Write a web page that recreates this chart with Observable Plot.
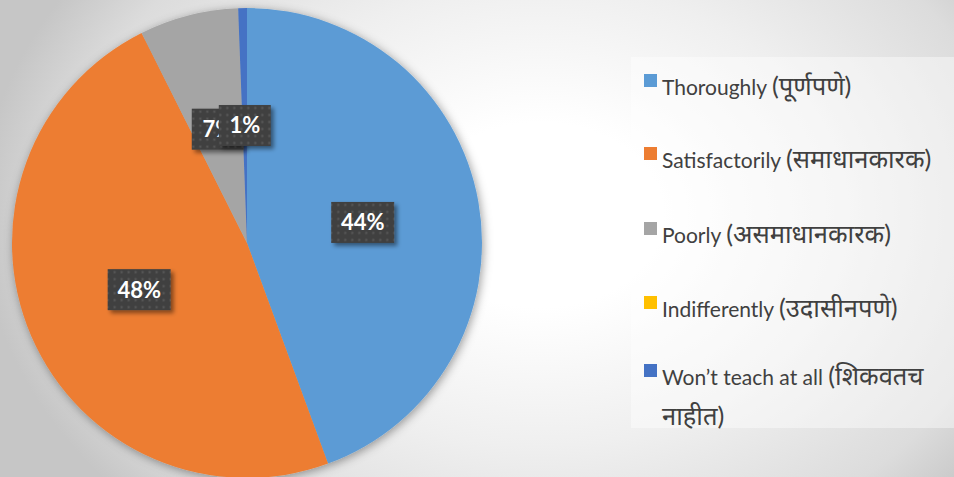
<!DOCTYPE html>
<html>
<head>
<meta charset="utf-8">
<script src="https://cdn.jsdelivr.net/npm/d3@7"></script>
<script src="https://cdn.jsdelivr.net/npm/@observablehq/plot@0.6"></script>
<style>
  html, body { margin: 0; padding: 0; }
  body {
    width: 954px; height: 477px; overflow: hidden; position: relative;
    background: radial-gradient(ellipse 560px 420px at 540px 215px, #ffffff 0%, #ffffff 22%, #efefef 55%, #dcdcdc 85%, #c6c6c6 100%);
    font-family: Lato, "Noto Sans", "Noto Sans Devanagari", sans-serif;
  }
  #chart { position: absolute; left: 0; top: 0; }
  #legendBox {
    position: absolute; left: 631px; top: 57px; width: 323px; height: 371px;
    background: rgba(255,255,255,0.42);
  }
  .item { position: absolute; left: 644px; width: 310px; font-size: 21px; line-height: 40px; color: #404040; }
  .item .sw { position: absolute; left: 0; top: 7px; width: 13px; height: 13px; }
  .item .tx { position: absolute; left: 18px; top: 0; width: 292px; white-space: normal; }
  .item .dev { font-size: 25.5px; line-height: 1; }
</style>
</head>
<body>
<div id="chart"></div>
<div id="legendBox"></div>
<div id="legend"></div>
<script>
const categories = [
  "Thoroughly (पूर्णपणे)",
  "Satisfactorily (समाधानकारक)",
  "Poorly (असमाधानकारक)",
  "Indifferently (उदासीनपणे)",
  "Won’t teach at all (शिकवतच नाहीत)"
];
const shares = [44.4, 48.2, 6.8, 0, 0.6];
const percentLabels = ["44%", "48%", "7%", "", "1%"];
const colors = ["#5B9BD5", "#ED7D31", "#A5A5A5", "#FFC000", "#4472C4"];

const data = categories.map((c, i) => ({category: c, share: shares[i], label: percentLabels[i]}));

const pieMark = Plot.dot(data, {
  x: 0, y: 0, fill: "category",
  render(index, scales, values) {
    const cx = scales.x(0), cy = scales.y(0), r = scales.x(1) - scales.x(0);
    const g = d3.create("svg:g");
    const defs = g.append("defs");
    const f1 = defs.append("filter").attr("id", "pieShadow").attr("x", "-20%").attr("y", "-20%").attr("width", "140%").attr("height", "140%");
    f1.append("feDropShadow").attr("dx", 1.5).attr("dy", 2).attr("stdDeviation", 5).attr("flood-color", "#000").attr("flood-opacity", 0.38);
    const f2 = defs.append("filter").attr("id", "boxShadow").attr("x", "-30%").attr("y", "-30%").attr("width", "170%").attr("height", "170%");
    f2.append("feDropShadow").attr("dx", 3).attr("dy", 3).attr("stdDeviation", 2.2).attr("flood-color", "#000").attr("flood-opacity", 0.45);
    const pat = defs.append("pattern").attr("id", "dots").attr("patternUnits", "userSpaceOnUse").attr("width", 7).attr("height", 7);
    pat.append("rect").attr("width", 7).attr("height", 7).attr("fill", "#404040");
    pat.append("rect").attr("x", 2.5).attr("y", 2.5).attr("width", 2).attr("height", 2).attr("fill", "#5c5c5c");

    const arcs = d3.pie().sort(null).value(i => data[i].share)(Array.from(index));
    const arc = d3.arc().innerRadius(0).outerRadius(r);
    const pg = g.append("g").attr("transform", `translate(${cx},${cy})`);
    pg.append("g").attr("filter", "url(#pieShadow)")
      .selectAll("path").data(arcs.filter(a => a.value > 0)).join("path")
      .attr("d", arc).attr("fill", a => values.fill[a.data]);

    const lg = pg.append("g");
    for (const a of arcs) {
      const lab = data[a.data].label;
      if (!lab) continue;
      const [lx, ly] = arc.centroid(a);
      const w = 30 + 11 * lab.length, h = 41;
      const grp = lg.append("g").attr("transform", `translate(${lx},${ly})`);
      grp.append("rect").attr("x", -w / 2).attr("y", -h / 2).attr("width", w).attr("height", h)
        .attr("fill", "url(#dots)").attr("filter", "url(#boxShadow)");
      grp.append("text").attr("text-anchor", "middle").attr("dy", "0.36em")
        .attr("fill", "white").attr("font-weight", "bold").attr("font-size", 22)
        .attr("font-family", "Lato, 'Noto Sans', sans-serif").text(lab);
    }
    return g.node();
  }
});

const plot = Plot.plot({
  width: 620, height: 477,
  margin: 0,
  style: {background: "transparent", overflow: "visible"},
  x: {domain: [-1, 1], range: [12, 482], axis: null},
  y: {domain: [-1, 1], range: [478, 8], axis: null},
  color: {domain: categories, range: colors},
  marks: [pieMark]
});
document.getElementById("chart").appendChild(plot);

// legend
const baselines = [95, 168, 243, 317, 385];
const legend = document.getElementById("legend");
const colorScale = plot.scale("color");
categories.forEach((c, i) => {
  const item = document.createElement("div");
  item.className = "item";
  item.style.top = (baselines[i] - 28) + "px";
  const sw = document.createElement("div");
  sw.className = "sw";
  sw.style.background = colorScale.apply(c);
  const tx = document.createElement("div");
  tx.className = "tx";
  const k = c.indexOf("(");
  tx.appendChild(document.createTextNode(c.slice(0, k)));
  const dev = document.createElement("span");
  dev.className = "dev";
  dev.textContent = c.slice(k);
  tx.appendChild(dev);
  item.appendChild(sw); item.appendChild(tx);
  legend.appendChild(item);
});
</script>
</body>
</html>
